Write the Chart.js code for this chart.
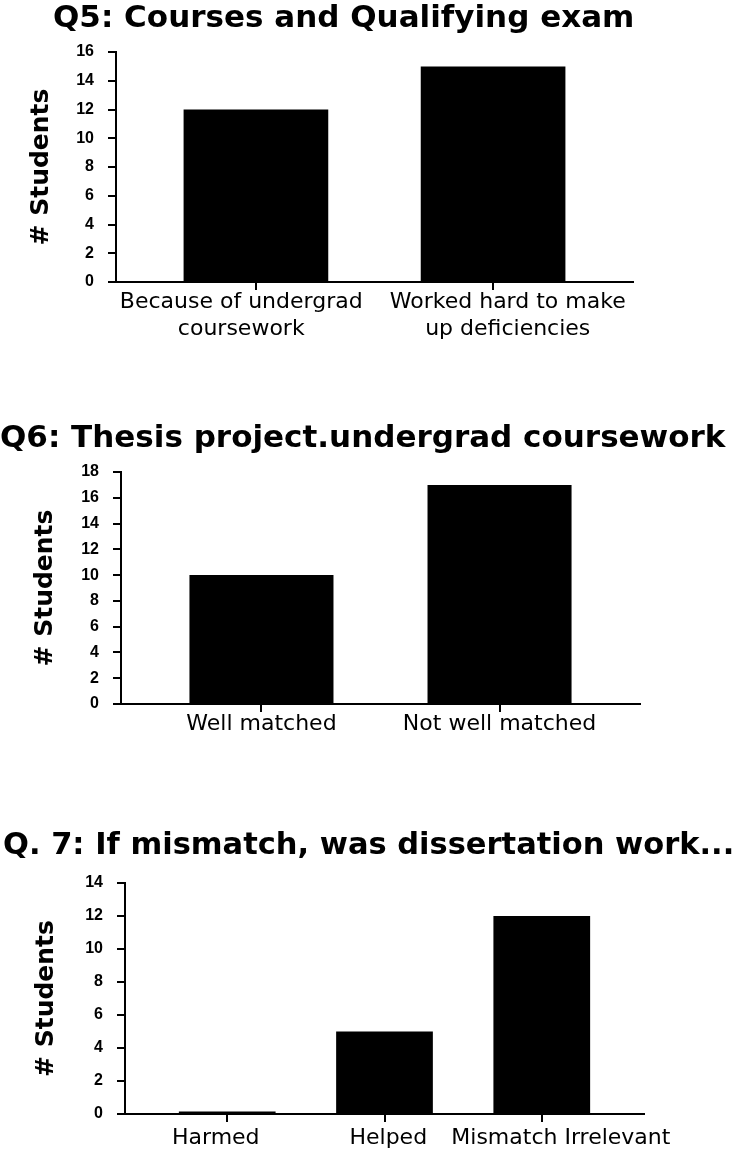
<!DOCTYPE html>
<html>
<head>
<meta charset="utf-8">
<title>Q5-Q7 survey answers</title>
<script src="https://cdn.jsdelivr.net/npm/chart.js@4.4.1/dist/chart.umd.min.js"></script>
<style>
    html, body { margin: 0; padding: 0; background: #fff; }
    .panel { position: absolute; left: 0; width: 734px; }
    #panelQ5 { top: 0; height: 400px; }
    #panelQ6 { top: 400px; height: 400px; }
    #panelQ7 { top: 800px; height: 349px; }
</style>
</head>
<body>
<div class="panel" id="panelQ5"><canvas id="chartQ5"></canvas></div>
<div class="panel" id="panelQ6"><canvas id="chartQ6"></canvas></div>
<div class="panel" id="panelQ7"><canvas id="chartQ7"></canvas></div>
<script>
// --- datos de cada pregunta ---
const q5Title = 'Q5: Courses and Qualifying exam';
const q5Labels = [['Because of undergrad', 'coursework'], ['Worked hard to make', 'up deficiencies']];
const q5Students = [12, 15];
const q5Max = 16;

const q6Title = 'Q6: Thesis project.undergrad coursework';
const q6Labels = ['Well matched', 'Not well matched'];
const q6Students = [10, 17];
const q6Max = 18;

const q7Title = 'Q. 7: If mismatch, was dissertation work...';
const q7Labels = ['Harmed', 'Helped', 'Mismatch Irrelevant'];
const q7Students = [0.15, 5, 12];
const q7Max = 14;

const yStep = 2;
const yAxisTitle = '# Students';

// titulo grande arriba de cada grafico (el plugin de Chart.js no deja moverlo en x)
const headline = {
    id: 'headline',
    afterDraw(chart, args, opts) {
        const ctx = chart.ctx;
        ctx.save();
        ctx.font = `bold ${opts.size}px "DejaVu Sans"`;
        ctx.fillStyle = '#000';
        ctx.textAlign = 'left';
        ctx.textBaseline = 'alphabetic';
        ctx.fillText(opts.text, opts.x, opts.y);
        ctx.restore();
    }
};

function indexTicks(n) {
    return s => { s.ticks = Array.from({ length: n }, (_, i) => ({ value: i })); };
}

function buildChart(canvasId, o) {
    const n = o.values.length;
    return new Chart(document.getElementById(canvasId), {
        type: 'bar',
        data: {
            datasets: [{
                data: o.values.map((v, i) => ({ x: i, y: v })),
                backgroundColor: '#000',
                borderWidth: 0,
                barPercentage: o.barPct,
                categoryPercentage: 1
            }]
        },
        options: {
            responsive: true,
            maintainAspectRatio: false,
            animation: false,
            layout: { padding: { top: o.top, right: o.right, bottom: 0, left: 0 } },
            plugins: {
                legend: { display: false },
                tooltip: { enabled: false },
                headline: { text: o.title, x: o.titleX, y: o.titleY, size: o.titleSize }
            },
            scales: {
                // eje de las barras: solo linea y marcas
                x: {
                    type: 'linear',
                    weight: 0,
                    min: -o.edge,
                    max: n - 1 + o.edge,
                    offset: false,
                    afterBuildTicks: indexTicks(n),
                    afterFit: s => { s.height = 0; },
                    ticks: { display: false },
                    grid: { offset: false, drawOnChartArea: false, tickLength: 8, color: '#000', lineWidth: 2 },
                    border: { color: '#000', width: 2 }
                },
                // eje aparte para los textos (en el original quedan corridos de las barras)
                xl: {
                    type: 'linear',
                    position: 'bottom',
                    weight: 1,
                    min: -o.lblLo,
                    max: n - 1 + o.lblHi,
                    offset: false,
                    afterBuildTicks: indexTicks(n),
                    afterFit: s => { s.height = o.xHeight; },
                    ticks: {
                        autoSkip: false,
                        maxRotation: 0,
                        padding: o.labelPad,
                        color: '#000',
                        font: { family: 'DejaVu Sans', size: 22, lineHeight: 1.23 },
                        callback: v => o.labels[v]
                    },
                    grid: { display: false, tickLength: 8 },
                    border: { display: false }
                },
                y: {
                    min: 0,
                    max: o.max,
                    afterFit: s => { s.width = o.left; },
                    ticks: {
                        stepSize: yStep,
                        padding: 14,
                        color: '#000',
                        font: { family: '"Liberation Sans Narrow", "Liberation Sans"', size: 16, weight: 'bold' }
                    },
                    grid: { drawOnChartArea: false, tickLength: 8, color: '#000', lineWidth: 2 },
                    border: { color: '#000', width: 2 },
                    title: {
                        display: true,
                        text: yAxisTitle,
                        color: '#000',
                        font: { family: 'DejaVu Sans', size: 25, weight: 'bold', lineHeight: 1.2 },
                        padding: { top: o.yTitleX - 15, bottom: 0 }
                    }
                }
            }
        },
        plugins: [headline]
    });
}

buildChart('chartQ5', {
    title: q5Title, titleX: 53, titleY: 27, titleSize: 31,
    labels: q5Labels, values: q5Students, max: q5Max,
    left: 116, right: 101, top: 52, xHeight: 118,
    yTitleX: 41, edge: 0.59, barPct: 0.61,
    lblLo: 0.47, lblHi: 0.47, labelPad: -1
});

buildChart('chartQ6', {
    title: q6Title, titleX: 0, titleY: 47, titleSize: 31,
    labels: q6Labels, values: q6Students, max: q6Max,
    left: 121, right: 94, top: 72, xHeight: 96,
    yTitleX: 45, edge: 0.59, barPct: 0.605,
    lblLo: 0.59, lblHi: 0.59, labelPad: -1
});

buildChart('chartQ7', {
    title: q7Title, titleX: 3, titleY: 54, titleSize: 30.5,
    labels: q7Labels, values: q7Students, max: q7Max,
    left: 125, right: 90, top: 83, xHeight: 35,
    yTitleX: 46, edge: 0.65, barPct: 0.615,
    lblLo: 0.526, lblHi: 0.482, labelPad: 3
});
</script>
</body>
</html>
